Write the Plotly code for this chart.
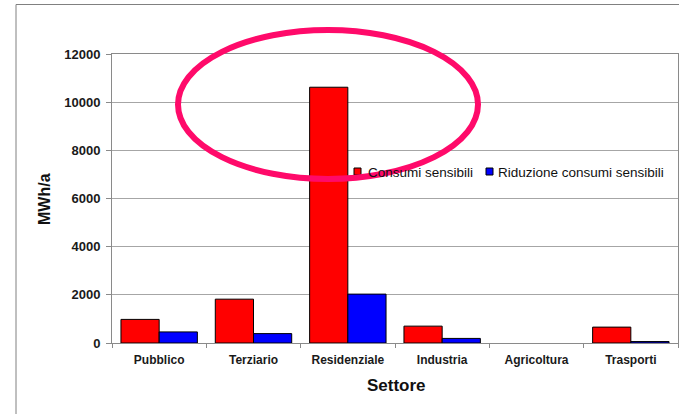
import plotly.graph_objects as go

categories = ["Pubblico", "Terziario", "Residenziale", "Industria", "Agricoltura", "Trasporti"]
consumi = [980, 1820, 10620, 700, 0, 660]
riduzione = [460, 390, 2030, 190, 0, 60]
series_names = ["Consumi sensibili", "Riduzione consumi sensibili"]
series_colors = ["#FF0000", "#0000FF"]
y_ticks = [0, 2000, 4000, 6000, 8000, 10000, 12000]

FONT = "Liberation Sans, Arial, sans-serif"
W, H = 679, 414
ML, MR, MT, MB = 112, 1, 54, 71
PW, PH = W - ML - MR, H - MT - MB

def px(x):
    return (x - ML) / PW

def py(y):
    return (H - MB - y) / PH

fig = go.Figure()
for name, vals, col in zip(series_names, [consumi, riduzione], series_colors):
    fig.add_trace(go.Bar(
        x=categories, y=vals, name=name,
        marker=dict(color=col,
                    line=dict(color="#000000", width=[1 if v > 0 else 0 for v in vals])),
        showlegend=False,
    ))

fig.update_layout(
    width=W, height=H,
    margin=dict(l=ML, r=MR, t=MT, b=MB, pad=0),
    paper_bgcolor="white", plot_bgcolor="white",
    barmode="group", bargap=0.19, bargroupgap=0,
    font=dict(family=FONT, color="#222222"),
    xaxis=dict(
        type="category", showline=True, linecolor="#8a8a8a", linewidth=1,
        ticks="outside", tickson="boundaries", ticklen=4, tickcolor="#8a8a8a",
        tickfont=dict(family=FONT, size=12, color="#1a1a1a", weight="bold"),
        ticklabelstandoff=6,
        showgrid=False, mirror=True,
    ),
    yaxis=dict(
        range=[0, 12000], tickvals=y_ticks, ticktext=[str(v) for v in y_ticks],
        showline=True, linecolor="#8a8a8a", linewidth=1, mirror=True,
        ticks="outside", ticklen=5, tickcolor="#8a8a8a",
        showgrid=True, gridcolor="#a6a6a6", gridwidth=1,
        tickfont=dict(family=FONT, size=13, color="#1a1a1a", weight="bold"),
        ticklabelstandoff=3,
        zeroline=False,
    ),
)

# axis titles
fig.add_annotation(text="<b>MWh/a</b>", xref="paper", yref="paper",
                   x=px(44), y=py(199), showarrow=False, textangle=-90,
                   font=dict(family=FONT, size=16, color="#111111"),
                   xanchor="center", yanchor="middle")
fig.add_annotation(text="<b>Settore</b>", xref="paper", yref="paper",
                   x=px(396), y=py(385), showarrow=False,
                   font=dict(family=FONT, size=17, color="#111111"),
                   xanchor="center", yanchor="middle")

# legend (manual)
leg_items = [(354, 366), (486, 496)]
for (sx, tx), name, col in zip(leg_items, series_names, series_colors):
    fig.add_shape(type="rect", xref="paper", yref="paper",
                  x0=px(sx), x1=px(sx + 7), y0=py(168), y1=py(175),
                  fillcolor=col, line=dict(color="#000000", width=1))
    fig.add_annotation(text=name, xref="paper", yref="paper",
                       x=px(tx), y=py(172), showarrow=False,
                       xanchor="left", yanchor="middle",
                       font=dict(family=FONT, size=13.5, color="#111111"))

# outer border
fig.add_shape(type="rect", xref="paper", yref="paper",
              x0=px(16), x1=px(W + 20), y0=py(H + 20), y1=py(4.5),
              line=dict(color="#808080", width=1), fillcolor="rgba(0,0,0,0)",
              layer="below")

# highlight ellipse
fig.add_shape(type="circle", xref="paper", yref="paper",
              x0=px(178), x1=px(478), y0=py(179), y1=py(30),
              line=dict(color="#FF0A6A", width=6), fillcolor="rgba(0,0,0,0)")

fig.write_html("out.html")
